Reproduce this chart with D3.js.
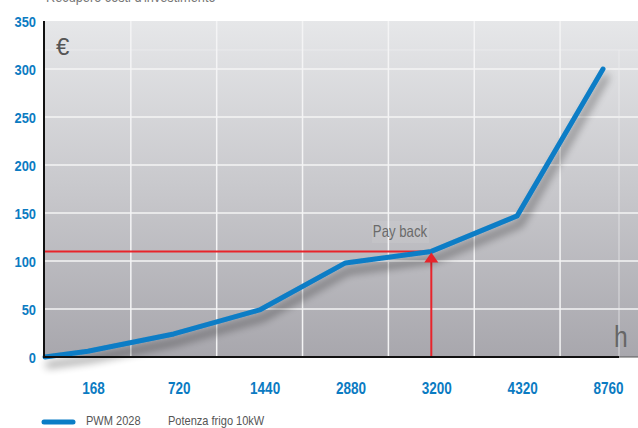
<!DOCTYPE html>
<html>
<head>
<meta charset="utf-8">
<script src="https://cdn.jsdelivr.net/npm/d3@7/dist/d3.min.js"></script>
<style>
  html, body { margin: 0; padding: 0; background: #ffffff; }
  svg { display: block; }
  text { font-family: "Liberation Sans", Arial, sans-serif; }
</style>
</head>
<body>
<svg id="chart" width="638" height="428"></svg>
<script>
// Operating hours per year and recovered cost (€)
const hours = ["168", "720", "1440", "2880", "3200", "4320", "8760"];
const cost = [6, 24, 49, 98, 110, 147, 300];
const originCost = 0;           // line starts at the origin
const yTicks = [0, 50, 100, 150, 200, 250, 300, 350];
const paybackIndex = 4;          // 3200 h
const paybackValue = 110;
const title = "Recupero costi d'investimento";
const legendSeries = "PWM 2028";
const legendNote = "Potenza frigo 10kW";

const svg = d3.select("#chart");
const plotL = 44, plotR = 638, plotT = 21, plotB = 357;

const y = d3.scaleLinear().domain([0, 350]).range([plotB, plotT]);
const x = d3.scaleLinear().domain([-0.5, hours.length - 1]).range([45, 603]);

// narrow text: horizontally condensed label placed at (tx, ty)
function narrowText(parent, tx, ty, str, size, sx, fill, anchor) {
  return parent.append("text")
    .attr("transform", `translate(${tx},${ty}) scale(${sx},1)`)
    .attr("font-size", size).attr("fill", fill)
    .attr("text-anchor", anchor || "start").text(str);
}

const defs = svg.append("defs");
const grad = defs.append("linearGradient").attr("id", "bg")
  .attr("x1", 0).attr("y1", 0).attr("x2", 0).attr("y2", 1);
grad.append("stop").attr("offset", "0%").attr("stop-color", "#e6e7e9");
grad.append("stop").attr("offset", "50%").attr("stop-color", "#c8c8cc");
grad.append("stop").attr("offset", "100%").attr("stop-color", "#a8a7ad");

const shadow = defs.append("filter").attr("id", "shadow")
  .attr("x", "-20%").attr("y", "-20%").attr("width", "140%").attr("height", "150%");
shadow.append("feGaussianBlur").attr("in", "SourceAlpha").attr("stdDeviation", 4.5).attr("result", "b");
shadow.append("feOffset").attr("in", "b").attr("dx", 3).attr("dy", 8).attr("result", "o");
shadow.append("feComponentTransfer").attr("in", "o").attr("result", "s")
  .append("feFuncA").attr("type", "linear").attr("slope", 0.45);
const merge = shadow.append("feMerge");
merge.append("feMergeNode").attr("in", "s");
merge.append("feMergeNode").attr("in", "SourceGraphic");

// title (partly above the frame)
narrowText(svg, 46, 2, title, 15, 0.85, "#777");

// plot background
svg.append("rect").attr("x", plotL).attr("y", plotT)
  .attr("width", plotR - plotL).attr("height", plotB - plotT)
  .attr("fill", "url(#bg)");

// horizontal grid
svg.append("g").selectAll("line").data(yTicks.filter(d => d > 0 && d < 350)).join("line")
  .attr("x1", plotL).attr("x2", plotR)
  .attr("y1", d => y(d)).attr("y2", d => y(d))
  .attr("stroke", "#f4f4f5").attr("stroke-width", 1.5);

// faint band line under the top
svg.append("line").attr("x1", plotL).attr("x2", plotR)
  .attr("y1", 50).attr("y2", 50)
  .attr("stroke", "#f0f0f2").attr("stroke-opacity", 0.6).attr("stroke-width", 1);

// vertical grid between categories
svg.append("g").selectAll("line").data(d3.range(hours.length - 1)).join("line")
  .attr("x1", i => x(i + 0.5)).attr("x2", i => x(i + 0.5))
  .attr("y1", plotT).attr("y2", plotB)
  .attr("stroke", "#f4f4f5").attr("stroke-width", 1.5);

svg.append("line").attr("x1", 619).attr("x2", 619)
  .attr("y1", 50).attr("y2", plotB)
  .attr("stroke", "#eeeef0").attr("stroke-opacity", 0.7).attr("stroke-width", 1);

// unit labels
svg.append("text").attr("x", 56).attr("y", 55)
  .attr("font-size", 24).attr("fill", "#555").text("€");
narrowText(svg, 614, 347, "h", 29, 0.85, "#666");

// payback label
svg.append("rect").attr("x", 372).attr("y", 221).attr("width", 57).attr("height", 22)
  .attr("fill", "#ffffff").attr("fill-opacity", 0.08);
narrowText(svg, 400, 237, "Pay back", 16.5, 0.8, "#6a6a6a", "middle");

// payback guides
const px = x(paybackIndex), py = y(paybackValue);
svg.append("line").attr("x1", plotL).attr("x2", px).attr("y1", py).attr("y2", py)
  .attr("stroke", "#e8242b").attr("stroke-width", 2);
svg.append("line").attr("x1", px).attr("x2", px).attr("y1", py + 8).attr("y2", plotB)
  .attr("stroke", "#e8242b").attr("stroke-width", 2);

// cost line
const pts = [[x(-0.5), y(originCost)]].concat(cost.map((v, i) => [x(i), y(v)]));
svg.append("path").attr("d", d3.line()(pts))
  .attr("fill", "none").attr("stroke", "#0a7dc6").attr("stroke-width", 5)
  .attr("stroke-linejoin", "round").attr("stroke-linecap", "round")
  .attr("filter", "url(#shadow)");

// payback arrow head
svg.append("path")
  .attr("d", `M${px},${py + 1} L${px + 7},${py + 11} L${px - 7},${py + 11} Z`)
  .attr("fill", "#e8242b");

// axes frame
svg.append("line").attr("x1", plotL).attr("x2", plotL).attr("y1", plotT).attr("y2", plotB + 1)
  .attr("stroke", "#111").attr("stroke-width", 2);
svg.append("line").attr("x1", plotL).attr("x2", 619).attr("y1", plotB).attr("y2", plotB)
  .attr("stroke", "#111").attr("stroke-width", 2);
svg.append("line").attr("x1", 619).attr("x2", plotR).attr("y1", plotB).attr("y2", plotB)
  .attr("stroke", "#555").attr("stroke-width", 1);

// y axis labels
const yAxis = d3.axisLeft(y).tickValues(yTicks).tickSize(0).tickPadding(0);
const gy = svg.append("g").attr("transform", "translate(36,0)").call(yAxis);
gy.select(".domain").remove();
gy.selectAll("text").attr("x", 0).attr("dy", "0.36em")
  .attr("transform", "scale(0.86,1)")
  .attr("font-size", 15).attr("font-weight", "bold").attr("fill", "#0b7bc2");

// x axis labels
const xAxis = d3.axisBottom(x).tickValues(d3.range(hours.length))
  .tickFormat(i => hours[i]).tickSize(0).tickPadding(0);
const gx = svg.append("g").attr("transform", "translate(5,382)").call(xAxis);
gx.select(".domain").remove();
gx.selectAll("text").attr("dy", 0).attr("y", 12)
  .attr("transform", "scale(0.82,1)")
  .attr("font-size", 16.5).attr("font-weight", "bold").attr("fill", "#0b7bc2");

// legend
svg.append("line").attr("x1", 44).attr("x2", 73).attr("y1", 422).attr("y2", 422)
  .attr("stroke", "#0a7dc6").attr("stroke-width", 5).attr("stroke-linecap", "round");
narrowText(svg, 86, 425, legendSeries, 13, 0.85, "#555");
narrowText(svg, 168, 425, legendNote, 13, 0.85, "#555");
</script>
</body>
</html>
